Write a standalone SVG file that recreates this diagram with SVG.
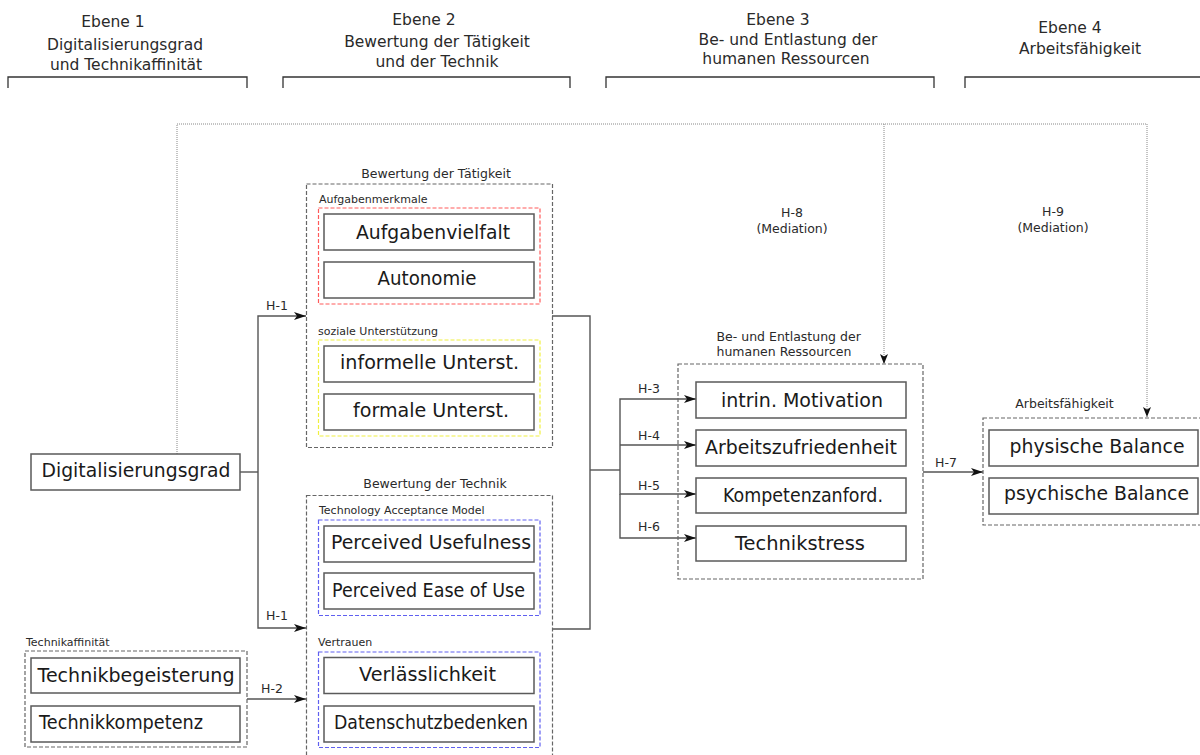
<svg xmlns="http://www.w3.org/2000/svg" width="1200" height="755" viewBox="0 0 1200 755">
<defs>
<style>
text{font-family:"DejaVu Sans","Liberation Sans",sans-serif;fill:#222}
.hd{font-size:15.5px;text-anchor:middle;fill:#2a2a2a}
.br{fill:none;stroke:#333;stroke-width:1.3}
.big{font-size:18.8px;text-anchor:middle;fill:#1a1a1a}
.box{fill:#fff;stroke:#5a5a5a;stroke-width:1.5}
.grp{fill:none;stroke:#666;stroke-width:1.2;stroke-dasharray:4,2}
.red{fill:none;stroke:#ff5a5a;stroke-width:1.2;stroke-dasharray:4,2}
.yel{fill:none;stroke:#f0f040;stroke-width:1.2;stroke-dasharray:4,2}
.blu{fill:none;stroke:#6060f0;stroke-width:1.2;stroke-dasharray:4,2}
.ttl{font-size:12.5px;text-anchor:middle;fill:#2a2a2a}
.sm{font-size:11px;fill:#2a2a2a}
.hl{font-size:12.5px;text-anchor:middle;fill:#2a2a2a}
.ln{fill:none;stroke:#555;stroke-width:1.4}
.dot{fill:none;stroke:#888;stroke-width:1;stroke-dasharray:1,1}
</style>
<marker id="arr" viewBox="0 0 12 8" refX="12" refY="4" markerWidth="12" markerHeight="8" markerUnits="userSpaceOnUse" orient="auto">
<path d="M0,0 L12,4 L0,8 L3,4 z" fill="#111"/>
</marker>
<marker id="arrd" viewBox="0 0 10 8" refX="10" refY="4" markerWidth="10" markerHeight="8" markerUnits="userSpaceOnUse" orient="auto">
<path d="M0,0 L10,4 L0,8 L2.5,4 z" fill="#111"/>
</marker>
</defs>
<rect width="1200" height="755" fill="#fff"/>

<g id="headers">
<text class="hd" x="113" y="27">Ebene 1</text>
<text class="hd" x="125" y="50">Digitalisierungsgrad</text>
<text class="hd" x="126" y="70">und Technikaffinität</text>
<path class="br" d="M8,88 V77 H247 V88"/>
<text class="hd" x="424" y="25">Ebene 2</text>
<text class="hd" x="437" y="47">Bewertung der Tätigkeit</text>
<text class="hd" x="437" y="67">und der Technik</text>
<path class="br" d="M283,88 V77 H570 V88"/>
<text class="hd" x="778" y="25">Ebene 3</text>
<text class="hd" x="788" y="45">Be- und Entlastung der</text>
<text class="hd" x="786" y="64">humanen Ressourcen</text>
<path class="br" d="M606,88 V77 H934 V88"/>
<text class="hd" x="1070" y="33">Ebene 4</text>
<text class="hd" x="1080" y="54">Arbeitsfähigkeit</text>
<path class="br" d="M965,88 V77 H1205"/>
</g>

<g id="connectors">
<path class="dot" d="M177,454 V124 H1147 V417" marker-end="url(#arrd)"/>
<path class="dot" d="M884,124 V364" marker-end="url(#arrd)"/>
<path class="ln" d="M240,472 H258"/>
<path class="ln" d="M258,472 V316 H306" marker-end="url(#arr)"/>
<path class="ln" d="M258,472 V628 H306" marker-end="url(#arr)"/>
<path class="ln" d="M247,699 H306" marker-end="url(#arr)"/>
<path class="ln" d="M552,316 H590 V629 H552"/>
<path class="ln" d="M590,470 H620"/>
<path class="ln" d="M620,470 V399 H696" marker-end="url(#arr)"/>
<path class="ln" d="M620,445 H696" marker-end="url(#arr)"/>
<path class="ln" d="M620,470 V494 H696" marker-end="url(#arr)"/>
<path class="ln" d="M620,494 V538 H696" marker-end="url(#arr)"/>
<path class="ln" d="M923,472 H983" marker-end="url(#arr)"/>
<text class="hl" x="277" y="310">H-1</text>
<text class="hl" x="277" y="620">H-1</text>
<text class="hl" x="272" y="693">H-2</text>
<text class="hl" x="649" y="393">H-3</text>
<text class="hl" x="649" y="440">H-4</text>
<text class="hl" x="649" y="490">H-5</text>
<text class="hl" x="649" y="531">H-6</text>
<text class="hl" x="946" y="467">H-7</text>
<text class="hl" x="792" y="217">H-8</text>
<text class="hl" x="792" y="233">(Mediation)</text>
<text class="hl" x="1053" y="216">H-9</text>
<text class="hl" x="1053" y="232">(Mediation)</text>
</g>

<g id="digitalisierungsgrad">
<rect class="box" x="31" y="454" width="209" height="36"/>
<text class="big" x="136" y="477" textLength="189" lengthAdjust="spacingAndGlyphs">Digitalisierungsgrad</text>
</g>

<g id="technikaffinitaet">
<text class="sm" x="26" y="646">Technikaffinität</text>
<rect class="grp" x="25" y="651" width="222" height="96"/>
<rect class="box" x="31" y="658" width="209" height="35"/>
<text class="big" x="136" y="682" textLength="197" lengthAdjust="spacingAndGlyphs">Technikbegeisterung</text>
<rect class="box" x="31" y="706" width="209" height="36"/>
<text class="big" x="39" y="729" style="text-anchor:start" textLength="164" lengthAdjust="spacingAndGlyphs">Technikkompetenz</text>
</g>

<g id="bewertung-taetigkeit">
<text class="ttl" x="436" y="178">Bewertung der Tätigkeit</text>
<rect class="grp" x="306.5" y="184" width="246" height="263.5"/>
<text class="sm" x="319" y="203">Aufgabenmerkmale</text>
<rect class="red" x="318.5" y="208" width="221.5" height="96"/>
<rect class="box" x="324" y="214" width="210" height="36"/>
<text class="big" x="433" y="239" textLength="154" lengthAdjust="spacingAndGlyphs">Aufgabenvielfalt</text>
<rect class="box" x="324" y="262" width="210" height="36"/>
<text class="big" x="427" y="285" textLength="99" lengthAdjust="spacingAndGlyphs">Autonomie</text>
<text class="sm" x="318" y="335">soziale Unterstützung</text>
<rect class="yel" x="318.5" y="340" width="221.5" height="96"/>
<rect class="box" x="324" y="346" width="210" height="36"/>
<text class="big" x="429.5" y="369" textLength="179" lengthAdjust="spacingAndGlyphs">informelle Unterst.</text>
<rect class="box" x="324" y="394" width="210" height="36"/>
<text class="big" x="431" y="417" textLength="156" lengthAdjust="spacingAndGlyphs">formale Unterst.</text>
</g>

<g id="bewertung-technik">
<text class="ttl" x="435" y="488">Bewertung der Technik</text>
<rect class="grp" x="306.5" y="495.5" width="246" height="280"/>
<text class="sm" x="319" y="514">Technology Acceptance Model</text>
<rect class="blu" x="318.5" y="520" width="221.5" height="95.5"/>
<rect class="box" x="324" y="526" width="210" height="36"/>
<text class="big" x="431" y="549" textLength="200" lengthAdjust="spacingAndGlyphs">Perceived Usefulness</text>
<rect class="box" x="324" y="573" width="210" height="36"/>
<text class="big" x="428.5" y="597" textLength="193" lengthAdjust="spacingAndGlyphs">Perceived Ease of Use</text>
<text class="sm" x="318" y="646">Vertrauen</text>
<rect class="blu" x="318.5" y="652" width="221.5" height="95.5"/>
<rect class="box" x="324" y="657.5" width="210" height="36"/>
<text class="big" x="427.5" y="681" textLength="137" lengthAdjust="spacingAndGlyphs">Verlässlichkeit</text>
<rect class="box" x="324" y="706" width="210" height="36"/>
<text class="big" x="431" y="729" textLength="194" lengthAdjust="spacingAndGlyphs">Datenschutzbedenken</text>
</g>

<g id="belastung">
<text class="sm" x="716.5" y="341" style="font-size:12.5px">Be- und Entlastung der</text>
<text class="sm" x="716.5" y="356" style="font-size:12.5px">humanen Ressourcen</text>
<rect class="grp" x="678" y="364" width="245" height="215"/>
<rect class="box" x="696" y="382" width="210" height="36"/>
<text class="big" x="802" y="407" textLength="162" lengthAdjust="spacingAndGlyphs">intrin. Motivation</text>
<rect class="box" x="696" y="430" width="210" height="36"/>
<text class="big" x="801" y="454" textLength="192" lengthAdjust="spacingAndGlyphs">Arbeitszufriedenheit</text>
<rect class="box" x="696" y="478" width="210" height="35"/>
<text class="big" x="803" y="502" textLength="160" lengthAdjust="spacingAndGlyphs">Kompetenzanford.</text>
<rect class="box" x="696" y="526" width="210" height="35"/>
<text class="big" x="800" y="550" textLength="130" lengthAdjust="spacingAndGlyphs">Technikstress</text>
</g>

<g id="arbeitsfaehigkeit">
<text class="ttl" x="1064.5" y="408">Arbeitsfähigkeit</text>
<rect class="grp" x="983" y="418" width="230" height="107"/>
<rect class="box" x="989" y="430" width="209" height="36"/>
<text class="big" x="1097" y="453" textLength="175" lengthAdjust="spacingAndGlyphs">physische Balance</text>
<rect class="box" x="989" y="478" width="209" height="36"/>
<text class="big" x="1096.5" y="500" textLength="185" lengthAdjust="spacingAndGlyphs">psychische Balance</text>
</g>
</svg>
